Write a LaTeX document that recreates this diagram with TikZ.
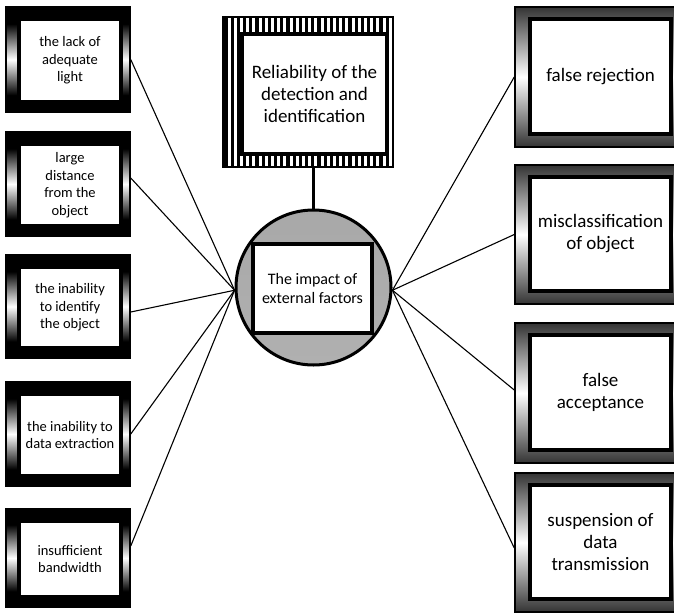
\documentclass[tikz,border=0pt]{standalone}
\usepackage{fontspec}
\setmainfont{Carlito}

% frame fills: dark band (left column) and grey band (right column)
\pgfdeclareverticalshading{darkframe}{100bp}{color(0bp)=(black); color(33bp)=(black); color(50bp)=(white); color(67bp)=(black); color(100bp)=(black)}
\pgfdeclareverticalshading{grayframe}{100bp}{color(0bp)=(black!80); color(25bp)=(black!80); color(50bp)=(white); color(75bp)=(black!80); color(100bp)=(black!80)}

\tikzset{
  lframe/.style={draw=black, line width=1.5pt, shading=darkframe, inner sep=0pt},
  rframe/.style={draw=black, line width=1.5pt, shading=grayframe, inner sep=0pt},
  panel/.style={draw=black, line width=4pt, fill=white, inner sep=0pt, align=center},
  lpanel/.style={panel, font=\fontsize{14.5}{17.5}\selectfont},
  rpanel/.style={panel, font=\fontsize{19}{22}\selectfont},
  conn/.style={draw=black, line width=1.1pt},
}

% left-column factor box: name, x1, y1, x2, y2, text
\newcommand\mkleft[6]{%
  \node[lframe, minimum width={#4-#2}, minimum height={#5-#3}] (#1o) at ({(#2+#4)/2},{(#3+#5)/2}) {};
  \node[lpanel, minimum width={#4-#2-22}, minimum height={#5-#3-22}] (#1) at ({(#2+#4)/2+2},{(#3+#5)/2+1}) {#6};
}
% right-column outcome box: name, x1, y1, x2, y2, text
\newcommand\mkright[6]{%
  \node[rframe, minimum width={#4-#2}, minimum height={#5-#3}] (#1o) at ({(#2+#4)/2},{(#3+#5)/2}) {};
  \node[rpanel, minimum width={#4-#2-30}, minimum height={#5-#3-25}] (#1) at ({(#2+#4)/2},{(#3+#5)/2-0.5}) {#6};
}

\begin{document}
\begin{tikzpicture}[x=1pt, y=-1pt]
\useasboundingbox (0,0) rectangle (674,613);
\clip (0,0) rectangle (674,613);

% left column
\mkleft{l1}{6}{7}{130}{112}{the lack of\\adequate\\light}
\mkleft{l2}{6}{132}{130}{236}{large\\distance\\from the\\object}
\mkleft{l3}{6}{255}{130}{358}{the inability\\to identify\\the object}
\mkleft{l4}{6}{382}{130}{486}{the inability to\\data extraction}
\mkleft{l5}{6}{509}{130}{607}{insufficient\\bandwidth}

% right column
\mkright{r1}{515}{7}{686}{147}{false rejection}
\mkright{r2}{515}{165}{686}{304}{misclassification\\of object}
\mkright{r3}{515}{323}{686}{463}{false\\acceptance}
\mkright{r4}{515}{473}{686}{612}{suspension of\\data\\transmission}

% striped top box
\begin{scope}
  \clip (223,17) rectangle (393,167);
  \foreach \i in {0,...,27} \draw[line width=3.1pt] ({226+\i*6.2},17) -- ++(0,150);
\end{scope}
\node[draw=black, line width=2pt, minimum width=170, minimum height=150, inner sep=0pt] (topo) at (308,92) {};
\node[panel, font=\fontsize{19}{22}\selectfont, minimum width=145, minimum height=120] (top) at (314.5,94) {Reliability of the\\detection and\\identification};

% central circle
\node[circle, draw=black, line width=3pt, minimum size=155, inner sep=0pt,
      top color=black!34, middle color=black!22, bottom color=black!31] (circ) at (313.5,287.5) {};
\node[panel, font=\fontsize{16}{19.5}\selectfont, minimum width=119, minimum height=89] (impact) at (312.5,288.5) {The impact of\\external factors};

% connectors
\draw[line width=3pt] (circ.north) -- (circ.north |- topo.south);

\draw[conn] (l1o.east) -- (circ.182);
\draw[conn] ([yshift=6pt]l2o.east) -- (circ.182);
\draw[conn] ([yshift=-5.5pt]l3o.east) -- (circ.182);
\draw[conn] (l4o.east) -- (circ.182);
\draw[conn] ([yshift=12pt]l5o.east) -- (circ.182);

\draw[conn] (r1o.west) -- (circ.-2);
\draw[conn] (r2o.west) -- (circ.-2);
\draw[conn] ([yshift=3pt]r3o.west) -- (circ.-2);
\draw[conn] ([yshift=-5.5pt]r4o.west) -- (circ.-2);
\end{tikzpicture}
\end{document}
